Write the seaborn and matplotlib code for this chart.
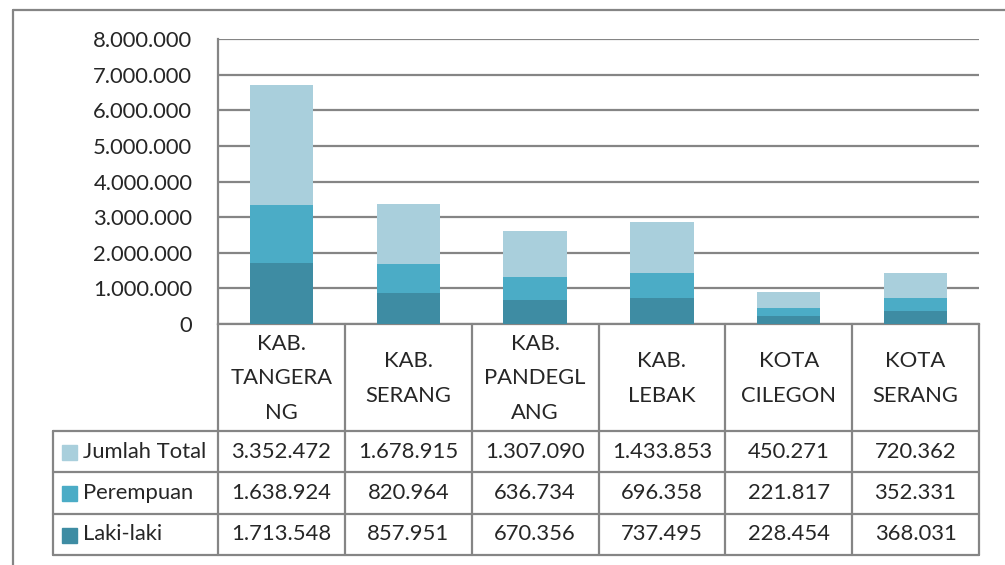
import matplotlib
matplotlib.use("Agg")
import matplotlib.pyplot as plt
from matplotlib.lines import Line2D
from matplotlib.patches import Rectangle
import pandas as pd
import seaborn as sns

# data
kategori = ["KAB.\nTANGERA\nNG", "KAB.\nSERANG", "KAB.\nPANDEGL\nANG",
            "KAB.\nLEBAK", "KOTA\nCILEGON", "KOTA\nSERANG"]
laki = [1713548, 857951, 670356, 737495, 228454, 368031]
perempuan = [1638924, 820964, 636734, 696358, 221817, 352331]
jumlah_total = [3352472, 1678915, 1307090, 1433853, 450271, 720362]
seri = ["Jumlah Total", "Perempuan", "Laki-laki"]
yticks = [0, 1000000, 2000000, 3000000, 4000000, 5000000, 6000000, 7000000, 8000000]

warna = {"Jumlah Total": "#A9CFDC", "Perempuan": "#4BACC6", "Laki-laki": "#3E8CA3"}
abu = "#858585"
fs = 15.8

sns.set_style("white")
plt.rcParams["font.family"] = ["Lato", "DejaVu Sans"]

W, H = 1005, 565
fig = plt.figure(figsize=(W / 100, H / 100), dpi=100)

def fx(px):
    return px / W

def fy(py):
    return 1 - py / H

ax = fig.add_axes([fx(218), fy(324), fx(979) - fx(218), (324 - 39) / H])

df = pd.DataFrame({"kategori": kategori, "Laki-laki": laki,
                   "Perempuan": perempuan, "Jumlah Total": jumlah_total})
df["lapis2"] = df["Laki-laki"] + df["Perempuan"]
df["lapis3"] = df["lapis2"] + df["Jumlah Total"]

# stacked: draw the cumulative layers back to front
for kol, w in [("lapis3", warna["Jumlah Total"]), ("lapis2", warna["Perempuan"]),
               ("Laki-laki", warna["Laki-laki"])]:
    sns.barplot(data=df, x="kategori", y=kol, color=w, width=0.5,
                saturation=1, linewidth=0, ax=ax, zorder=3)

ax.set_xlim(-0.5, len(kategori) - 0.5)
ax.set_ylim(0, yticks[-1])
ax.set_yticks(yticks)
ax.set_yticklabels([f"{v:,}".replace(",", ".") for v in yticks], fontsize=fs)
ax.tick_params(axis="y", length=0, pad=18.5)
ax.set_xticks([])
ax.set_xlabel("")
ax.set_ylabel("")
ax.grid(axis="y", color=abu, lw=1.6)
ax.set_axisbelow(True)
for s in ["top", "right"]:
    ax.spines[s].set_visible(False)
for s in ["left", "bottom"]:
    ax.spines[s].set_color(abu)
    ax.spines[s].set_linewidth(1.6)

# data table under the chart
def xpx(xd):
    return ax.transData.transform((xd, 0))[0] / fig.dpi * 100

batas = [xpx(i - 0.5) for i in range(len(kategori) + 1)]
kiri_tabel = 53
baris = [324, 431, 472, 514, 555]

def garis(x0, y0, x1, y1):
    fig.add_artist(Line2D([fx(x0), fx(x1)], [fy(y0), fy(y1)], color=abu, lw=1.6))

for b in batas:
    garis(b, baris[0], b, baris[-1])
garis(kiri_tabel, baris[1], kiri_tabel, baris[-1])
for y in baris[1:]:
    garis(kiri_tabel, y, batas[-1], y)

for i, k in enumerate(kategori):
    fig.text(fx((batas[i] + batas[i + 1]) / 2), fy((baris[0] + baris[1]) / 2 + 1), k,
             ha="center", va="center", fontsize=fs, linespacing=1.9)

nilai = {"Jumlah Total": jumlah_total, "Perempuan": perempuan, "Laki-laki": laki}
for r, nama in enumerate(seri):
    ym = (baris[r + 1] + baris[r + 2]) / 2
    fig.add_artist(Rectangle((fx(62), fy(ym + 8)), fx(15), 15 / H, color=warna[nama]))
    fig.text(fx(83), fy(ym), nama, ha="left", va="center", fontsize=fs)
    for i, v in enumerate(nilai[nama]):
        fig.text(fx((batas[i] + batas[i + 1]) / 2), fy(ym), f"{v:,}".replace(",", "."),
                 ha="center", va="center", fontsize=fs)

# outer frame
garis(13, 10, W, 10)
garis(13, 10, 13, H)

fig.savefig("out.png", dpi=100)
